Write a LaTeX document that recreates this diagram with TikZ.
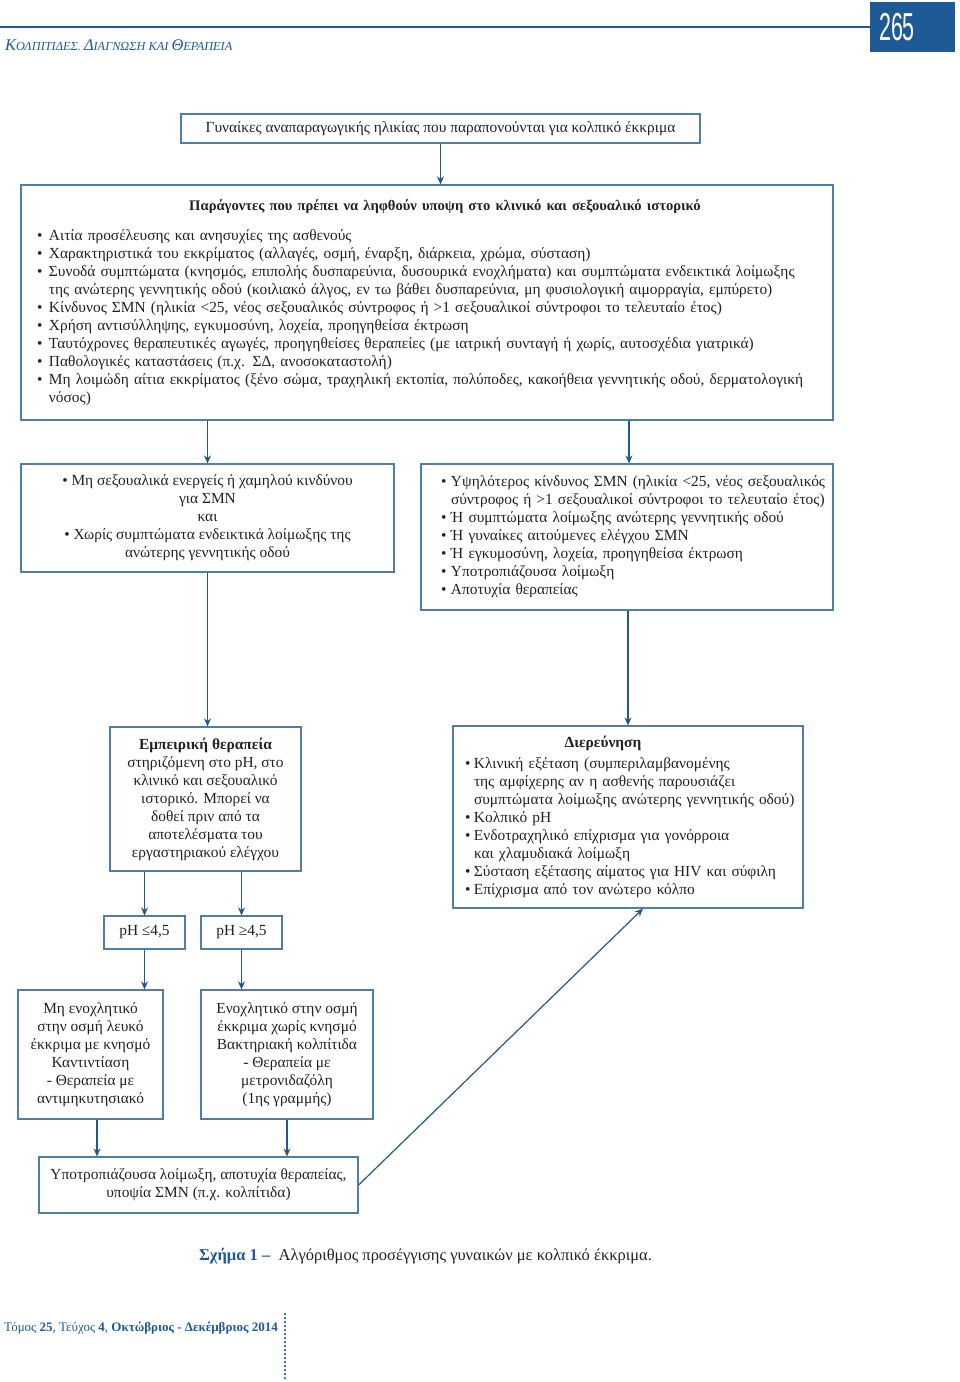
\documentclass[tikz,border=0pt]{standalone}
\usepackage{fontspec}
\setmainfont{Liberation Serif}
\newfontfamily\hdrsans{Liberation Sans}
\usetikzlibrary{arrows.meta,calc}
\definecolor{boxc}{HTML}{4F7FA8}
\definecolor{arrc}{HTML}{23598A}
\definecolor{hdr}{HTML}{1E5A96}
\definecolor{txt}{HTML}{222222}
\newcommand{\bi}[2][12pt]{\mbox{\makebox[#1][l]{\textbullet}#2}}
\newcommand{\ci}[2][12pt]{\mbox{\hspace*{#1}#2}}
\begin{document}
\begin{tikzpicture}[x=1pt,y=-1pt,
  bx/.style={draw=boxc,line width=1.2pt,fill=white,inner sep=0pt,
    font=\fontsize{15.4}{18}\selectfont,text=txt},
  arr/.style={draw=arrc,line width=1.2pt,-{Stealth[length=8pt,width=7pt]}}]
\useasboundingbox (0,0) rectangle (960,1382);
% header
\node[fill=hdr,minimum width=85pt,minimum height=50pt,inner sep=0pt] (pg) at (912.5,27) {};
\node[text=white,inner sep=0pt] (pgn) at (897,27) {\scalebox{0.55}[1]{\fontsize{39}{39}\selectfont\hdrsans 265}};
\draw[hdr,line width=1.5pt] (0,27) -- (pg.west |- 0,27);
\node[anchor=base west,inner sep=0pt,text=hdr,font=\itshape] (ht) at (5,50)
  {{\fontsize{16.4}{16}\selectfont Κ}{\fontsize{12.3}{12}\selectfont ΟΛΠΙΤΙΔΕΣ. }{\fontsize{16.4}{16}\selectfont Δ}{\fontsize{12.3}{12}\selectfont ΙΑΓΝΩΣΗ ΚΑΙ }{\fontsize{16.4}{16}\selectfont Θ}{\fontsize{12.3}{12}\selectfont ΕΡΑΠΕΙΑ}};
% boxes
\node[bx,minimum width=519pt,minimum height=29pt] (b1) at (440.5,128.5)
  {Γυναίκες αναπαραγωγικής ηλικίας που παραπονούνται για κολπικό έκκριμα};
\node[bx,minimum width=812pt,minimum height=235pt,align=left,text width=780pt] (b2) at (427,302.5)
  {\makebox[780pt][c]{\hspace{36pt}\fontsize{14.6}{18}\selectfont\textbf{Παράγοντες που πρέπει να ληφθούν υποψη στο κλινικό και σεξουαλικό ιστορικό}}\\[12pt]
   \bi{Αιτία προσέλευσης και ανησυχίες της ασθενούς}\\
   \bi{Χαρακτηριστικά του εκκρίματος (αλλαγές, οσμή, έναρξη, διάρκεια, χρώμα, σύσταση)}\\
   \bi{Συνοδά συμπτώματα (κνησμός, επιπολής δυσπαρεύνια, δυσουρικά ενοχλήματα) και συμπτώματα ενδεικτικά λοίμωξης}\\
   \ci{της ανώτερης γεννητικής οδού (κοιλιακό άλγος, εν τω βάθει δυσπαρεύνια, μη φυσιολογική αιμορραγία, εμπύρετο)}\\
   \bi{Κίνδυνος ΣΜΝ (ηλικία <25, νέος σεξουαλικός σύντροφος ή >1 σεξουαλικοί σύντροφοι το τελευταίο έτος)}\\
   \bi{Χρήση αντισύλληψης, εγκυμοσύνη, λοχεία, προηγηθείσα έκτρωση}\\
   \bi{Ταυτόχρονες θεραπευτικές αγωγές, προηγηθείσες θεραπείες (με ιατρική συνταγή ή χωρίς, αυτοσχέδια γιατρικά)}\\
   \bi{Παθολογικές καταστάσεις (π.χ. ΣΔ, ανοσοκαταστολή)}\\
   \bi{Μη λοιμώδη αίτια εκκρίματος (ξένο σώμα, τραχηλική εκτοπία, πολύποδες, κακοήθεια γεννητικής οδού, δερματολογική}\\
   \ci{νόσος)}};
\node[bx,minimum width=373pt,minimum height=108pt,align=center] (b3) at (207.5,518)
  {\textbullet\ Μη σεξουαλικά ενεργείς ή χαμηλού κινδύνου\\για ΣΜΝ\\και\\\textbullet\ Χωρίς συμπτώματα ενδεικτικά λοίμωξης της\\ανώτερης γεννητικής οδού};
\node[bx,minimum width=412pt,minimum height=146pt,align=left,text width=372pt] (b4) at (627,537)
  {\bi[10pt]{Υψηλότερος κίνδυνος ΣΜΝ (ηλικία <25, νέος σεξουαλικός}\\
   \ci[10pt]{σύντροφος ή >1 σεξουαλικοί σύντροφοι το τελευταίο έτος)}\\
   \bi[10pt]{Ή συμπτώματα λοίμωξης ανώτερης γεννητικής οδού}\\
   \bi[10pt]{Ή γυναίκες αιτούμενες ελέγχου ΣΜΝ}\\
   \bi[10pt]{Ή εγκυμοσύνη, λοχεία, προηγηθείσα έκτρωση}\\
   \bi[10pt]{Υποτροπιάζουσα λοίμωξη}\\
   \bi[10pt]{Αποτυχία θεραπείας}};
\node[bx,minimum width=191pt,minimum height=144pt,align=center] (b5) at (205.5,799)
  {\textbf{Εμπειρική θεραπεία}\\στηριζόμενη στο pH, στο\\κλινικό και σεξουαλικό\\ιστορικό. Μπορεί να\\δοθεί πριν από τα\\αποτελέσματα του\\εργαστηριακού ελέγχου};
\node[bx,minimum width=350pt,minimum height=182pt,align=left,text width=326pt] (b6) at (628,817)
  {\makebox[326pt][c]{\hspace{-50pt}\textbf{Διερεύνηση}}\\[3pt]
   \bi[9pt]{Κλινική εξέταση (συμπεριλαμβανομένης}\\
   \ci[9pt]{της αμφίχερης αν η ασθενής παρουσιάζει}\\
   \ci[9pt]{συμπτώματα λοίμωξης ανώτερης γεννητικής οδού)}\\
   \bi[9pt]{Κολπικό pH}\\
   \bi[9pt]{Ενδοτραχηλικό επίχρισμα για γονόρροια}\\
   \ci[9pt]{και χλαμυδιακά λοίμωξη}\\
   \bi[9pt]{Σύσταση εξέτασης αίματος για HIV και σύφιλη}\\
   \bi[9pt]{Επίχρισμα από τον ανώτερο κόλπο}\\[8pt]};
\node[bx,minimum width=81pt,minimum height=33pt] (p1) at (144.5,932.5) {pH ≤4,5};
\node[bx,minimum width=81pt,minimum height=33pt] (p2) at (241.5,932.5) {pH ≥4,5};
\node[bx,minimum width=145pt,minimum height=129pt,align=center] (b7) at (90.5,1054.5)
  {Μη ενοχλητικό\\στην οσμή λευκό\\έκκριμα με κνησμό\\Καντιντίαση\\- Θεραπεία με\\αντιμηκυτησιακό};
\node[bx,minimum width=172pt,minimum height=129pt,align=center] (b8) at (287,1054.5)
  {Ενοχλητικό στην οσμή\\έκκριμα χωρίς κνησμό\\Βακτηριακή κολπίτιδα\\- Θεραπεία με\\μετρονιδαζόλη\\(1ης γραμμής)};
\node[bx,minimum width=319pt,minimum height=56pt,align=center] (b9) at (198.5,1185)
  {Υποτροπιάζουσα λοίμωξη, αποτυχία θεραπείας,\\υποψία ΣΜΝ (π.χ. κολπίτιδα)};
% connectors
\draw[arr] (b1.south) -- (b1.south |- b2.north);
\draw[arr] (b2.south -| b3.north) -- (b3.north);
\draw[arr] ([xshift=2pt]b2.south -| b4.north) -- ([xshift=2pt]b4.north);
\draw[arr] (b3.south) -- (b3.south |- b5.north);
\draw[arr] ([xshift=1pt]b4.south) -- ([xshift=1pt]b4.south |- b6.north);
\draw[arr] (b5.south -| p1.north) -- (p1.north);
\draw[arr] (b5.south -| p2.north) -- (p2.north);
\draw[arr] (p1.south) -- (p1.south |- b7.north);
\draw[arr] (p2.south) -- (p2.south |- b8.north);
\draw[arr] ([xshift=6.5pt]b7.south) -- ([xshift=6.5pt]b7.south |- b9.north);
\draw[arr] (b8.south) -- (b8.south |- b9.north);
\draw[arr] (b9.east) -- ([xshift=15pt]b6.south);
% caption and footer
\node[anchor=west,inner sep=0pt,font=\fontsize{16.5}{18}\selectfont,text=txt] (cap) at (199,1256)
  {\textcolor{hdr}{\textbf{Σχήμα 1 –}}\ \ Αλγόριθμος προσέγγισης γυναικών με κολπικό έκκριμα.};
\node[anchor=west,inner sep=0pt,font=\fontsize{13}{16}\selectfont,text=hdr] (ft) at (4,1328)
  {Τόμος \textbf{25}, Τεύχος \textbf{4}, \textbf{Οκτώβριος - Δεκέμβριος 2014}};
\draw[hdr,line width=2.5pt,dash pattern=on 0pt off 4pt,line cap=round] (285,1314) -- (285,1380);
\end{tikzpicture}
\end{document}
